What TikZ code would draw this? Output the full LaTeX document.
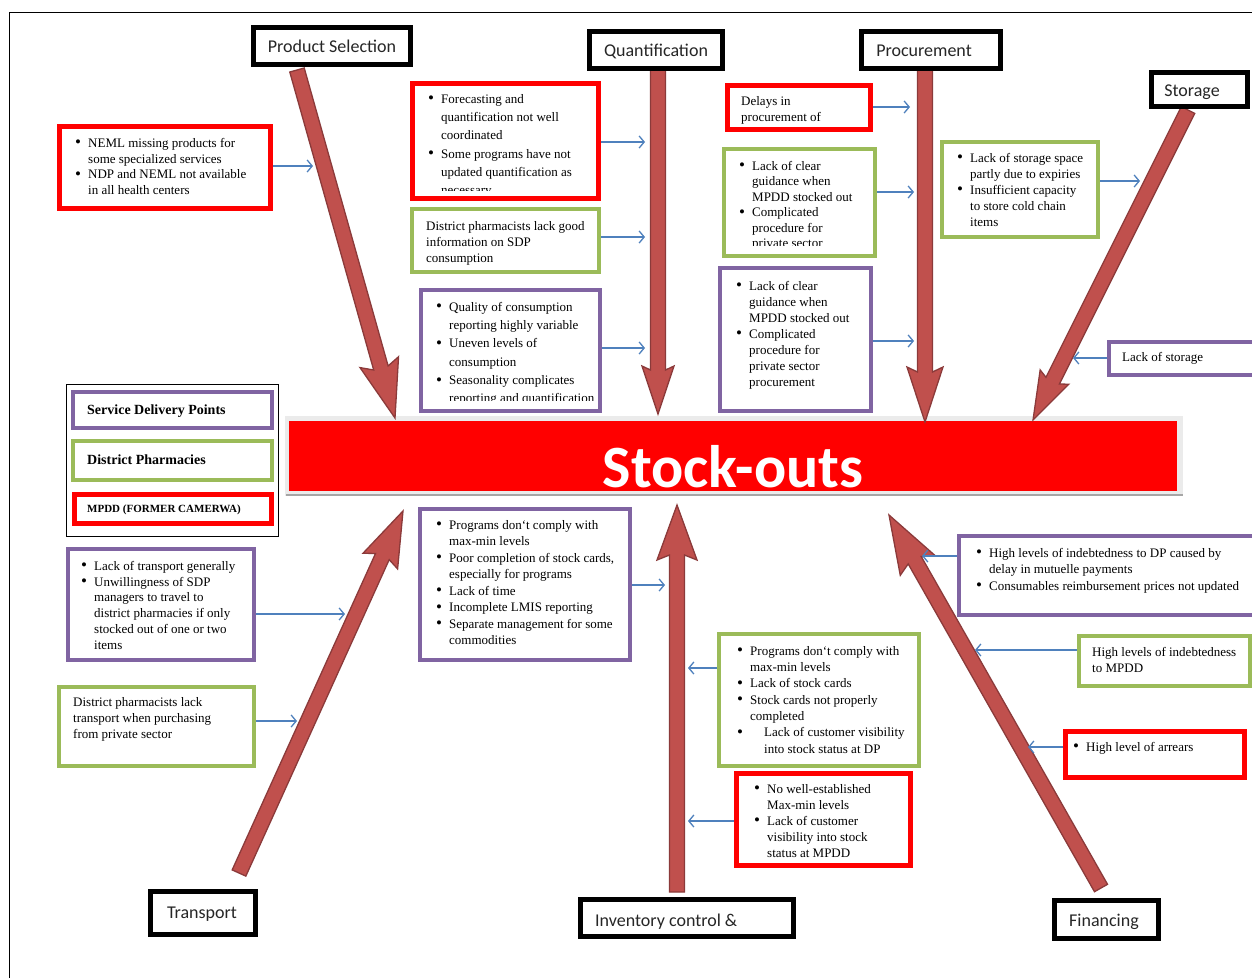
\documentclass[tikz,border=0pt]{standalone}
\usepackage{fontspec}
\setmainfont{Liberation Serif}
\newfontfamily\calfont{Carlito}
\usetikzlibrary{calc,fit,arrows.meta}
\definecolor{cred}{HTML}{FF0000}
\definecolor{cgreen}{HTML}{9BBB59}
\definecolor{cpurple}{HTML}{8064A2}
\definecolor{arrfill}{HTML}{C0504D}
\definecolor{arrline}{HTML}{8B3A3A}
\definecolor{cblue}{HTML}{4F81BD}
\newcommand\bigbul{\raisebox{-0.6pt}{\fontsize{17}{17}\selectfont\textbullet}}
\newcommand\bu{\makebox[13pt][l]{\bigbul}}
\newcommand\ct{\hspace*{13pt}}
\newcommand\blockarrow[5]{%
  \coordinate (#1n) at ($(#2)!#3pt!(#1)$);
  \coordinate (#1w) at ($(#2)!#4pt!(#1)$);
  \filldraw[bigarrow] ($(#1)!7.5pt!90:(#2)$) -- ($(#1n)!7.5pt!90:(#2)$) -- ($(#1w)!#5pt!90:(#2)$) -- (#2) -- ($(#1w)!#5pt!-90:(#2)$) -- ($(#1n)!7.5pt!-90:(#2)$) -- ($(#1)!7.5pt!-90:(#2)$) -- cycle;
}
\begin{document}
\begin{tikzpicture}[x=1pt,y=-1pt,
  causebox/.style={draw, line width=4pt, inner sep=0pt, fill=white},
  headbox/.style={draw=black, line width=5pt, inner sep=0pt, fill=white},
  headtext/.style={anchor=base, inner sep=0pt, text=black!85, font=\calfont\fontsize{18}{20}\selectfont},
  txt/.style={anchor=north west, inner sep=0pt, align=left, text=black, font=\fontsize{13}{#1}\selectfont},
  txt/.default=16,
  conn/.style={draw=cblue, line width=1.3pt, -{Straight Barb[length=5pt,width=12pt]}},
  bigarrow/.style={fill=arrfill, draw=arrline, line width=1.3pt},
  legtext/.style={anchor=base west, inner sep=0pt, font=\bfseries\fontsize{14}{16}\selectfont}]
\useasboundingbox (0,0) rectangle (1252,978);
\fill[white] (0,0) rectangle (1252,978);
% outer frame
\draw[line width=1.2pt] (9.5,978) -- (9.5,12.5) -- (1252,12.5);

% central bar
\fill[black!8] (285,416) rectangle (1183,496);
\draw[black!35, line width=1.5pt] (286,495) -- (1183,495);
\node[fill=cred, inner sep=0pt, fit={(289,421) (1177,491)}] (bar) {};
\node[anchor=base, inner sep=0pt, text=white, font=\calfont\bfseries\fontsize{60}{62}\selectfont] (title) at (733,487) {Stock-outs};

% big arrows
\coordinate (aPS) at (297,70);   \coordinate (tPS) at (395,418);
\coordinate (aQ)  at (658,70);   \coordinate (tQ)  at (658,414);
\coordinate (aPr) at (925,70);   \coordinate (tPr) at (925,422);
\coordinate (aSt) at (1188,110); \coordinate (tSt) at (1033,420);
\coordinate (aTr) at (239,873);  \coordinate (tTr) at (403,511);
\coordinate (aIn) at (677,892);  \coordinate (tIn) at (677,505);
\coordinate (aFi) at (1101,888); \coordinate (tFi) at (889,515);
\blockarrow{aPS}{tPS}{52}{58}{20}
\blockarrow{aQ}{tQ}{44}{48}{16}
\blockarrow{aPr}{tPr}{50}{55}{18}
\blockarrow{aSt}{tSt}{44}{48}{16}
\blockarrow{aTr}{tTr}{50}{55}{19}
\blockarrow{aIn}{tIn}{50}{55}{20}
\blockarrow{aFi}{tFi}{52}{58}{20}

% header boxes
\node[headbox, fit={(253.5,27.5) (410.5,64.5)}] (hps) {};
\node[headtext] (hpst) at (332,52) {Product Selection};
\node[headbox, fit={(589.5,31.5) (722.5,68.5)}] (hq) {};
\node[headtext] (hqt) at (656,56) {Quantification};
\node[headbox, fit={(861.5,31.5) (1000.5,68.5)}] (hpr) {};
\node[headtext] (hprt) at (924,56) {Procurement};
\node[headbox, fit={(1151.5,72.5) (1247.5,106.5)}] (hst) {};
\node[headtext] (hstt) at (1192,96) {Storage};
\node[headbox, fit={(150.5,891.5) (255.5,934.5)}] (htr) {};
\node[headtext] (htrt) at (202,918) {Transport};
\node[headbox, fit={(580.5,899.5) (793.5,936.5)}] (hin) {};
\node[headtext, anchor=base west] (hint) at (595,926) {Inventory control \&};
\node[headbox, fit={(1054.5,900.5) (1158.5,938.5)}] (hfi) {};
\node[headtext] (hfit) at (1104,926) {Financing};

% legend
\node[draw, line width=1.2pt, inner sep=0pt, fit={(66.5,384.5) (278.5,536.5)}] (leg) {};
\node[causebox, draw=cpurple, fit={(73,392) (272,428)}] (lg1) {};
\node[causebox, draw=cgreen, fit={(73,441) (272,480)}] (lg2) {};
\node[causebox, draw=cred, line width=5pt, fit={(74.5,494.5) (271.5,523.5)}] (lg3) {};
\node[legtext] (lt1) at (87,414) {Service Delivery Points};
\node[legtext] (lt2) at (87,464) {District Pharmacies};
\node[legtext, font=\bfseries\fontsize{11}{13}\selectfont] (lt3) at (87,512) {MPDD (FORMER CAMERWA)};

% cause boxes
\node[causebox, draw=cred, line width=5pt, fit={(59.5,126.5) (270.5,208.5)}] (b1) {};
\node[txt=15.7] (t1) at (75,138) {\bu NEML missing products for\\\ct some specialized services\\\bu NDP and NEML not available\\\ct in all health centers};

\node[causebox, draw=cred, line width=5pt, fit={(412.5,83.5) (598.5,198.5)}] (b2) {};
\begin{scope}
\clip (415,86) rectangle (596,190.5);
\node[txt=18.3] (t2) at (428,94) {\bu Forecasting and\\\ct quantification not well\\\ct coordinated\\\bu Some programs have not\\\ct updated quantification as\\\ct necessary};
\end{scope}

\node[causebox, draw=cgreen, fit={(412,209) (599,272)}] (b3) {};
\node[txt=16] (t3) at (426,221) {District pharmacists lack good\\information on SDP\\consumption};

\node[causebox, draw=cpurple, fit={(421,290) (600,411)}] (b4) {};
\begin{scope}
\clip (423,292) rectangle (598,400.5);
\node[txt=18.3] (t4) at (436,302) {\bu Quality of consumption\\\ct reporting highly variable\\\bu Uneven levels of\\\ct consumption\\\bu Seasonality complicates\\\ct reporting and quantification};
\end{scope}

\node[causebox, draw=cred, line width=5pt, fit={(727.5,85.5) (870.5,129.5)}] (b5) {};
\node[txt=16] (t5) at (741,96) {Delays in\\procurement of};

\node[causebox, draw=cgreen, fit={(724,149) (875,256)}] (b6) {};
\begin{scope}
\clip (726,151) rectangle (873,245.5);
\node[txt=15.5] (t6) at (739,161) {\bu Lack of clear\\\ct guidance when\\\ct MPDD stocked out\\\bu Complicated\\\ct procedure for\\\ct private sector};
\end{scope}

\node[causebox, draw=cpurple, fit={(720,268) (871,411)}] (b7) {};
\node[txt=16] (t7) at (736,281) {\bu Lack of clear\\\ct guidance when\\\ct MPDD stocked out\\\bu Complicated\\\ct procedure for\\\ct private sector\\\ct procurement};

\node[causebox, draw=cgreen, fit={(942,142) (1098,237)}] (b8) {};
\node[txt=16] (t8) at (957,153) {\bu Lack of storage space\\\ct partly due to expiries\\\bu Insufficient capacity\\\ct to store cold chain\\\ct items};

\node[causebox, draw=cpurple, fit={(1109,342) (1262,375)}] (b9) {};
\node[txt=16] (t9) at (1122,352) {Lack of storage};

\node[causebox, draw=cpurple, fit={(68,549) (254,660)}] (b10) {};
\node[txt=15.8] (t10) at (81,561) {\bu Lack of transport generally\\\bu Unwillingness of SDP\\\ct managers to travel to\\\ct district pharmacies if only\\\ct stocked out of one or two\\\ct items};

\node[causebox, draw=cgreen, fit={(59,687) (254,766)}] (b11) {};
\node[txt=16] (t11) at (73,697) {District pharmacists lack\\transport when purchasing\\from private sector};

\node[causebox, draw=cpurple, fit={(420,509) (630,660)}] (b12) {};
\node[txt=16.5] (t12) at (436,520) {\bu Programs don`t comply with\\\ct max-min levels\\\bu Poor completion of stock cards,\\\ct especially for programs\\\bu Lack of time\\\bu Incomplete LMIS reporting\\\bu Separate management for some\\\ct commodities};

\node[causebox, draw=cgreen, fit={(719,634) (919,766)}] (b13) {};
\node[txt=16.3] (t13) at (737,646) {\bu Programs don`t comply with\\\ct max-min levels\\\bu Lack of stock cards\\\bu Stock cards not properly\\\ct completed\\\makebox[27pt][l]{\bigbul}Lack of customer visibility\\\hspace*{27pt}into stock status at DP};

\node[causebox, draw=cred, line width=5pt, fit={(736.5,773.5) (910.5,865.5)}] (b14) {};
\node[txt=16] (t14) at (754,784) {\bu No well-established\\\ct Max-min levels\\\bu Lack of customer\\\ct visibility into stock\\\ct status at MPDD};

\node[causebox, draw=cpurple, fit={(959,536) (1262,615)}] (b15) {};
\node[txt=16.5] (t15) at (976,548) {\bu High levels of indebtedness to DP caused by\\\ct delay in mutuelle payments\\\bu Consumables reimbursement prices not updated};

\node[causebox, draw=cgreen, fit={(1079,636) (1250,686)}] (b16) {};
\node[txt=16] (t16) at (1092,647) {High levels of indebtedness\\to MPDD};

\node[causebox, draw=cred, line width=5pt, fit={(1065.5,731.5) (1244.5,777.5)}] (b17) {};
\node[txt=16] (t17) at (1073,742) {\bu High level of arrears};

% connectors
\coordinate (c1) at (313,166);
\coordinate (c2) at (645,142);
\coordinate (c3) at (645,237);
\coordinate (c4) at (645,348);
\coordinate (c5) at (910,107);
\coordinate (c6) at (914,192);
\coordinate (c7) at (914,341);
\coordinate (c8) at (1140,181);
\coordinate (c9) at (1073,358);
\coordinate (c10) at (345,614);
\coordinate (c11) at (297,721);
\coordinate (c12) at (665,585);
\coordinate (c13) at (688,668);
\coordinate (c14) at (688,821);
\coordinate (c15) at (922,556);
\coordinate (c16) at (975,650);
\coordinate (c17) at (1028,747);
\draw[conn] (b1.east |- c1) -- (c1);
\draw[conn] (b2.east |- c2) -- (c2);
\draw[conn] (b3.east |- c3) -- (c3);
\draw[conn] (b4.east |- c4) -- (c4);
\draw[conn] (b5.east |- c5) -- (c5);
\draw[conn] (b6.east |- c6) -- (c6);
\draw[conn] (b7.east |- c7) -- (c7);
\draw[conn] (b8.east |- c8) -- (c8);
\draw[conn] (b9.west |- c9) -- (c9);
\draw[conn] (b10.east |- c10) -- (c10);
\draw[conn] (b11.east |- c11) -- (c11);
\draw[conn] (b12.east |- c12) -- (c12);
\draw[conn] (b13.west |- c13) -- (c13);
\draw[conn] (b14.west |- c14) -- (c14);
\draw[conn] (b15.west |- c15) -- (c15);
\draw[conn] (b16.west |- c16) -- (c16);
\draw[conn] (b17.west |- c17) -- (c17);
\end{tikzpicture}
\end{document}
